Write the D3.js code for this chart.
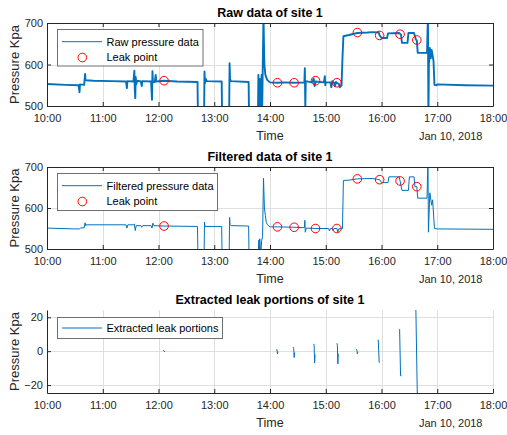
<!DOCTYPE html>
<html>
<head>
<meta charset="utf-8">
<style>
  body { margin: 0; background: #fff; }
  svg { font-family: "Liberation Sans", Arial, sans-serif; }
</style>
</head>
<body>
<svg id="chart" width="507" height="435"></svg>
<script src="https://d3js.org/d3.v7.min.js"></script>
<script>
// ---- data (time of day, kPa) ----
const rawSeries = [
  ["10:00",553],["10:20",551],["10:34",550],["10:35",533],["10:35:30",552],["10:40",551],
  ["10:41",577],["10:41:30",562],["10:50",561],["11:10",560],["11:25",559],["11:26",543],
  ["11:26:30",560],["11:33",559],["11:34",585],["11:34:30",540],["11:35",519],["11:35:30",570],
  ["11:36",552],["11:37",561],["11:41",559],["11:42",548],["11:42:30",560],["11:52",559],
  ["11:53",515],["11:53:30",584],["11:54",558],["11:56",558],["11:57",575],["11:57:30",559],
  ["12:06",561],["12:20",559],["12:42",558],["12:42:30",470],["12:49",470],["12:49:30",583],
  ["12:50",555],["12:51",565],["12:52",560],["13:08",559],["13:08:30",470],["13:16",470],
  ["13:16:30",603],["13:17",565],["13:18",560],["13:37",558],["13:37:30",470],["13:47",470],
  ["13:47:30",575],["13:48",485],["13:49",565],["13:49:30",470],["13:50",530],["13:51",575],
  ["13:51:30",480],["13:52",560],["13:53",720],["13:53:30",650],["13:54",600],["13:55",575],
  ["13:57",563],["14:00",557],["14:08",556],["14:15",557],["14:26",556],["14:37",557],
  ["14:37:30",591],["14:38",495],["14:38:30",560],["14:45",557],["14:47",566],["14:48",548],
  ["14:49",559],["14:58",557],["14:59",572],["14:59:30",550],["15:00",557],["15:05",557],
  ["15:06",545],["15:07",560],["15:09",556],["15:10",548],["15:11",558],["15:12",555],
  ["15:14",554],["15:15",545],["15:17",549],["15:18",615],["15:19",668],["15:25",671],
  ["15:34",676],["15:45",677],["15:50",678],["15:57",677],["15:58",670],["16:00",664],
  ["16:06",664],["16:07",675],["16:19",676],["16:21",672],["16:22",652],["16:28",652],
  ["16:29",676],["16:35",676],["16:37",660],["16:38",658],["16:39",628],["16:49",628],
  ["16:50",720],["16:50:30",470],["16:51",600],["16:52",640],["16:53",615],["16:54",635],
  ["16:56",608],["16:57",551],["16:59",550],["17:00",552],["17:30",550],["18:00",549]
];

const filteredSeries = [
  ["10:00",551],["10:30",549],["10:35",549],["10:36",551],["10:40",552],["10:41",564],
  ["10:41:30",557],["10:42",559],["11:25",559],["11:26",551],["11:27",559],["11:33",559],
  ["11:34",561],["11:35",545],["11:36",557],["11:41",557],["11:42",553],["11:43",557],
  ["11:52",557],["11:53",551],["11:54",563],["11:55",557],["12:06",556],["12:42",555],
  ["12:42:30",470],["12:49",470],["12:49:30",566],["12:50",555],["13:08",555],["13:08:30",470],
  ["13:16",470],["13:16:30",577],["13:17",560],["13:18",557],["13:37",556],["13:37:30",470],
  ["13:47",470],["13:48",522],["13:48:30",490],["13:49",525],["13:50",485],["13:51",520],
  ["13:52",530],["13:53",673],["13:54",600],["13:55",582],["13:56",565],["13:57",560],
  ["14:00",554],["14:08",554],["14:26",553],["14:37",552],["14:37:30",570],["14:38",541],
  ["14:39",551],["14:49",550],["15:03",550],["15:04",544],["15:05",550],["15:07",550],
  ["15:08",545],["15:09",550],["15:12",550],["15:13",541],["15:14",549],["15:18",550],
  ["15:19",667],["15:25",668],["15:34",671],["15:50",672],["15:58",669],["16:00",662],
  ["16:07",662],["16:08",676],["16:19",676],["16:20",666],["16:22",643],["16:29",643],
  ["16:30",676],["16:35",676],["16:36",652],["16:38",652],["16:39",624],["16:49",624],
  ["16:50",720],["16:50:30",541],["16:52",637],["16:54",607],["16:55",620],["16:57",550],
  ["17:00",549],["18:00",548]
];

const leakTimes = ["12:06","14:08","14:26","14:49","15:12","15:34","15:58","16:20","16:38"];
const leakRaw = [561, 556, 556, 561, 556, 677, 670, 673, 659];
const leakFiltered = [556, 554, 553, 550, 550, 671, 669, 666, 652];

// extracted leak portions, null separates the pieces
const extractedSeries = [
  ["12:05",0.6],["12:06",0.2],["12:07",-0.5], null,
  ["14:07",1.2],["14:07:30",0.8],["14:08",-1.6],["14:08:30",-0.4], null,
  ["14:25",2.4],["14:25:30",1.5],["14:26",-3.7],["14:26:30",-0.8], null,
  ["14:47",4.3],["14:47:30",3.5],["14:48",-7],["14:48:30",-2], null,
  ["15:12",4.7],["15:12:30",3.5],["15:13",-7.5],["15:13:30",-1.5], null,
  ["15:33",1.2],["15:33:30",0.6],["15:34",-1.6],["15:34:30",-0.6], null,
  ["15:56",6.6],["15:56:30",6.6],["15:57:30",-6.7],["15:58",-6.7], null,
  ["16:19",12.9],["16:19:30",12.9],["16:20:30",-14.5],["16:21:30",-14.5], null,
  ["16:37",24.3],["16:38:30",-24.7],["16:39",-24.7]
];

const hourTicks = ["10:00","11:00","12:00","13:00","14:00","15:00","16:00","17:00","18:00"];
const pressureTicks = [500, 600, 700];
const portionTicks = [-20, 0, 20];

// ---- helpers ----
function t(s) {
  const p = s.split(":").map(Number);
  return new Date(2018, 0, 10, p[0], p[1], p[2] || 0);
}

const blue = "#0072bd";
const axisColor = "#262626";
const gridColor = "#dfdfdf";
const svg = d3.select("#chart");

const x = d3.scaleTime()
  .domain([t("10:00"), t("18:00")])
  .range([47, 493]);

const panels = [
  { id: "p1", top: 23, bottom: 106, title: "Raw data of site 1", domain: [500, 700], ticks: pressureTicks,
    box: true, series: rawSeries, width: 1.9, leaks: leakRaw,
    legend: { x: 57.5, y: 29.5, w: 145.5, h: 36.5, label: "Raw pressure data" } },
  { id: "p2", top: 167, bottom: 249, title: "Filtered data of site 1", domain: [500, 700], ticks: pressureTicks,
    box: true, series: filteredSeries, width: 1, leaks: leakFiltered,
    legend: { x: 57.5, y: 173.5, w: 160, h: 37, label: "Filtered pressure data" } },
  { id: "p3", top: 310, bottom: 393, title: "Extracted leak portions of site 1", domain: [-24.7, 24.3], ticks: portionTicks,
    box: false, series: extractedSeries, width: 1, leaks: null,
    legend: { x: 57.5, y: 317.5, w: 165, h: 21, label: "Extracted leak portions" } }
];

panels.forEach(p => {
  const y = d3.scaleLinear().domain(p.domain).range([p.bottom, p.top]);
  const g = svg.append("g");
  const [x0, x1] = x.range();

  // grid
  g.append("g").selectAll("line").data(hourTicks).join("line")
    .attr("x1", d => Math.round(x(t(d))) + 0.5).attr("x2", d => Math.round(x(t(d))) + 0.5)
    .attr("y1", p.top).attr("y2", p.bottom)
    .attr("stroke", gridColor);
  g.append("g").selectAll("line").data(p.ticks).join("line")
    .attr("x1", x0).attr("x2", x1)
    .attr("y1", d => Math.round(y(d)) + 0.5).attr("y2", d => Math.round(y(d)) + 0.5)
    .attr("stroke", gridColor);

  // data
  g.append("clipPath").attr("id", "clip-" + p.id)
    .append("rect").attr("x", x0).attr("y", p.top).attr("width", x1 - x0).attr("height", p.bottom - p.top);

  const line = d3.line()
    .defined(d => d !== null)
    .x(d => x(t(d[0])))
    .y(d => y(d[1]));

  g.append("path")
    .datum(p.series)
    .attr("clip-path", "url(#clip-" + p.id + ")")
    .attr("d", line)
    .attr("fill", "none")
    .attr("stroke", blue)
    .attr("stroke-width", p.width)
    .attr("stroke-linejoin", "round");

  if (p.leaks) {
    g.append("g").selectAll("circle").data(leakTimes).join("circle")
      .attr("cx", d => x(t(d)))
      .attr("cy", (d, i) => y(p.leaks[i]))
      .attr("r", 4.3)
      .attr("fill", "none")
      .attr("stroke", "#ff0000")
      .attr("stroke-width", 1);
  }

  // axes (inward ticks)
  const xAxis = d3.axisBottom(x)
    .tickValues(hourTicks.map(t))
    .tickFormat(d3.timeFormat("%H:%M"))
    .tickSizeInner(-4).tickSizeOuter(0).tickPadding(8);
  const yAxis = d3.axisLeft(y)
    .tickValues(p.ticks)
    .tickSizeInner(-4).tickSizeOuter(0).tickPadding(4);

  g.append("g").attr("transform", `translate(0,${p.bottom})`).call(xAxis);
  g.append("g").attr("transform", `translate(${x0},0)`).call(yAxis);

  if (p.box) {
    g.append("g").attr("transform", `translate(0,${p.top})`)
      .call(d3.axisTop(x).tickValues(hourTicks.map(t)).tickFormat("").tickSizeInner(-4).tickSizeOuter(0));
    g.append("g").attr("transform", `translate(${x1},0)`)
      .call(d3.axisRight(y).tickValues(p.ticks).tickFormat("").tickSizeInner(-4).tickSizeOuter(0));
  }

  g.selectAll(".domain, .tick line").attr("stroke", axisColor);
  g.selectAll(".tick text").attr("fill", axisColor).style("font-size", "11px")
    .style("font-family", "'Liberation Sans', Arial, sans-serif");

  // titles and labels
  g.append("text")
    .attr("x", (x0 + x1) / 2).attr("y", p.top - 6.5)
    .attr("text-anchor", "middle")
    .style("font-size", "12.5px").style("font-weight", "bold")
    .attr("fill", "#000")
    .text(p.title);

  g.append("text")
    .attr("x", (x0 + x1) / 2).attr("y", p.bottom + 34)
    .attr("text-anchor", "middle")
    .style("font-size", "12.5px")
    .attr("fill", axisColor)
    .text("Time");

  g.append("text")
    .attr("x", 482.5).attr("y", p.bottom + 34)
    .attr("text-anchor", "end")
    .style("font-size", "11px")
    .attr("fill", axisColor)
    .text("Jan 10, 2018");

  g.append("text")
    .attr("transform", `translate(19,${(p.top + p.bottom) / 2}) rotate(-90)`)
    .attr("text-anchor", "middle")
    .style("font-size", "13px")
    .attr("fill", axisColor)
    .text("Pressure Kpa");

  // legend
  const L = p.legend;
  const lg = g.append("g");
  lg.append("rect")
    .attr("x", L.x).attr("y", L.y).attr("width", L.w).attr("height", L.h)
    .attr("fill", "#fff").attr("stroke", "#6f6f6f").attr("stroke-width", 1);
  const row1 = p.leaks ? L.y + 12.2 : L.y + L.h / 2;
  lg.append("line")
    .attr("x1", L.x + 4.5).attr("x2", L.x + 44.5)
    .attr("y1", row1).attr("y2", row1)
    .attr("stroke", blue).attr("stroke-width", 1);
  lg.append("text")
    .attr("x", L.x + 49).attr("y", row1).attr("dy", "0.35em")
    .style("font-size", "11px").attr("fill", "#000")
    .text(L.label);
  if (p.leaks) {
    const row2 = row1 + 15.8;
    lg.append("circle")
      .attr("cx", L.x + 24.8).attr("cy", row2).attr("r", 4.3)
      .attr("fill", "none").attr("stroke", "#ff0000");
    lg.append("text")
      .attr("x", L.x + 49).attr("y", row2).attr("dy", "0.35em")
      .style("font-size", "11px").attr("fill", "#000")
      .text("Leak point");
  }
});
</script>
</body>
</html>
